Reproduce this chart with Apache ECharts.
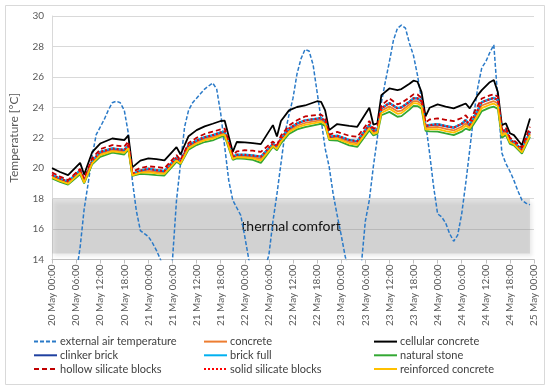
<!DOCTYPE html>
<html>
<head>
<meta charset="utf-8">
<script src="https://cdn.jsdelivr.net/npm/echarts@6/dist/echarts.min.js"></script>
<style>html,body{margin:0;padding:0;background:#fff}#c{width:550px;height:389px}</style>
</head>
<body>
<div id="c"></div>
<script>
// ---- tick labels (every 6 hours) ----
var tickLabels = ["20 May 00:00","20 May 06:00","20 May 12:00","20 May 18:00",
  "21 May 00:00","21 May 06:00","21 May 12:00","21 May 18:00",
  "22 May 00:00","22 May 06:00","22 May 12:00","22 May 18:00",
  "23 May 00:00","23 May 06:00","23 May 12:00","23 May 18:00",
  "24 May 00:00","24 May 06:00","24 May 12:00","24 May 18:00","25 May 00:00"];

// ---- external air temperature, hourly from 20 May 00:00 ----
var extTemp = [12.5,12.2,11.9,11.7,11.6,11.8,13.0,14.8,17.3,19.0,
  20.8,22.2,22.7,23.2,23.8,24.3,24.4,24.3,23.8,22.3,
  19.2,17.2,15.9,15.7,15.5,15.1,14.6,14.0,13.2,12.8,
  14.0,17.9,20.3,22.7,23.8,24.3,24.6,24.9,25.2,25.4,
  25.6,25.2,23.6,21.4,19.2,17.9,17.4,16.9,15.5,14.0,
  12.8,12.4,12.5,13.4,14.3,16.5,18.3,20.3,22.3,23.5,
  24.6,26.2,27.2,27.8,27.7,26.8,25.0,23.2,21.3,20.1,
  18.3,16.9,15.6,14.2,13.2,12.6,12.7,13.6,16.5,17.9,
  20.1,22.0,24.3,25.7,27.0,28.4,29.2,29.4,29.2,28.2,
  27.4,26.1,24.5,23.0,21.0,18.8,17.0,16.8,16.4,15.7,
  15.2,15.6,17.0,19.0,21.2,23.5,25.3,26.6,27.0,27.6,
  28.1,24.5,21.0,20.3,19.8,19.2,18.5,17.9,17.7,17.6];

// ---- indoor temperatures at read hours ----
var hours = [0,2,4,7,8,10,12,15,18,19,20,22,24,26,28,31,32,34,36,38,40,42,43,45,46,48,50,52,
  55,56,57,59,61,63,66,67,68,69,71,74,76,79,80,81,82,84,86,87,89,90,91,92,93,94,96,98,100,
  102,103,104,106,107,109,110,111,112,113,114,115,117,119];

var cellularConcrete = [20.00,19.75,19.55,20.35,19.58,21.05,21.62,21.95,21.85,22.15,20.05,20.50,20.65,20.60,20.52,21.38,20.90,22.10,22.50,22.75,22.92,23.10,23.12,21.07,21.72,21.70,21.65,21.58,
  22.83,22.08,23.10,23.80,24.02,24.12,24.40,24.36,23.80,22.50,22.90,22.78,22.72,23.97,22.87,22.94,24.80,25.24,25.13,25.20,25.55,25.75,25.68,25.00,23.40,23.97,24.19,24.05,23.93,
  24.14,24.25,23.93,24.80,25.13,25.65,25.80,25.00,22.83,22.95,22.30,22.17,21.51,23.26];

var hollowSilicate = [19.72,19.45,19.22,19.95,19.30,20.65,21.25,21.52,21.42,21.75,19.75,20.02,20.12,20.08,20.00,20.86,20.52,21.65,22.00,22.25,22.40,22.55,22.60,20.85,21.10,21.18,21.15,21.07,
  21.75,21.50,22.15,22.80,23.15,23.40,23.50,23.52,23.30,22.20,22.38,22.13,22.06,23.10,22.60,22.70,24.12,24.58,24.20,24.28,24.65,24.85,24.84,24.60,23.00,23.20,23.27,23.18,23.09,
  23.30,23.48,23.12,24.10,24.58,24.78,24.85,24.70,22.55,22.65,22.00,21.84,21.35,22.72];

var clinkerBrick = [19.55,19.30,19.10,19.85,19.15,20.45,21.05,21.28,21.18,21.50,19.60,19.82,19.95,19.85,19.80,20.68,20.42,21.50,21.80,22.02,22.15,22.33,22.38,20.72,20.87,20.86,20.82,20.74,
  21.58,21.42,21.95,22.58,22.92,23.12,23.24,23.28,23.08,22.05,22.12,21.84,21.76,22.85,22.45,22.52,23.92,24.26,23.93,23.98,24.35,24.58,24.58,24.38,22.75,22.82,22.87,22.75,22.65,
  22.90,23.15,22.83,23.80,24.32,24.52,24.60,24.45,22.40,22.50,21.85,21.69,21.20,22.39];

var brickFull = [19.59,19.34,19.14,19.89,19.19,20.49,21.09,21.32,21.22,21.54,19.64,19.86,19.99,19.89,19.84,20.72,20.46,21.54,21.84,22.06,22.19,22.37,22.42,20.76,20.91,20.90,20.86,20.78,
  21.62,21.46,21.99,22.62,22.96,23.16,23.28,23.32,23.12,22.09,22.16,21.88,21.80,22.89,22.49,22.56,23.96,24.30,23.97,24.02,24.39,24.62,24.62,24.42,22.79,22.86,22.91,22.79,22.69,
  22.94,23.19,22.87,23.84,24.36,24.56,24.64,24.49,22.44,22.54,21.89,21.73,21.24,22.43];

var solidSilicate = [19.57,19.32,19.12,19.87,19.17,20.47,21.07,21.30,21.20,21.52,19.62,19.84,19.97,19.87,19.82,20.70,20.44,21.52,21.82,22.04,22.17,22.35,22.40,20.74,20.89,20.88,20.84,20.76,
  21.60,21.44,21.97,22.60,22.94,23.14,23.26,23.30,23.10,22.07,22.14,21.86,21.78,22.87,22.47,22.54,23.94,24.28,23.95,24.00,24.37,24.60,24.60,24.40,22.77,22.84,22.89,22.77,22.67,
  22.92,23.17,22.85,23.82,24.34,24.54,24.62,24.47,22.42,22.52,21.87,21.71,21.22,22.41];

var concrete = [19.47,19.23,19.04,19.76,19.10,20.38,20.95,21.19,21.08,21.40,19.56,19.76,19.83,19.75,19.70,20.59,20.36,21.40,21.70,21.92,22.03,22.23,22.28,20.66,20.79,20.78,20.73,20.60,
  21.52,21.34,21.83,22.46,22.79,22.97,23.11,23.15,22.98,21.98,22.02,21.72,21.63,22.72,22.35,22.43,23.77,24.06,23.74,23.78,24.18,24.41,24.40,24.21,22.65,22.68,22.71,22.59,22.48,
  22.72,22.96,22.71,23.62,24.12,24.33,24.40,24.26,22.26,22.39,21.76,21.62,21.11,22.27];

var reinforcedConcrete = [19.40,19.17,18.98,19.69,19.05,20.32,20.86,21.11,21.00,21.32,19.53,19.71,19.72,19.66,19.62,20.51,20.31,21.32,21.62,21.83,21.94,22.15,22.20,20.61,20.72,20.70,20.64,20.49,
  21.46,21.26,21.74,22.37,22.68,22.85,23.00,23.05,22.88,21.92,21.93,21.62,21.53,22.61,22.26,22.34,23.63,23.90,23.57,23.62,24.03,24.27,24.25,24.07,22.56,22.56,22.56,22.44,22.34,
  22.58,22.79,22.62,23.48,23.95,24.17,24.24,24.09,22.14,22.29,21.69,21.57,21.04,22.18];

var naturalStone = [19.32,19.10,18.92,19.60,19.00,20.25,20.75,21.02,20.90,21.22,19.50,19.62,19.60,19.55,19.52,20.42,20.25,21.22,21.52,21.72,21.82,22.05,22.10,20.55,20.64,20.62,20.55,20.35,
  21.40,21.18,21.62,22.25,22.55,22.70,22.87,22.92,22.78,21.85,21.82,21.50,21.40,22.48,22.15,22.25,23.48,23.70,23.38,23.42,23.85,24.10,24.08,23.90,22.45,22.42,22.40,22.28,22.17,
  22.40,22.60,22.50,23.30,23.75,23.98,24.04,23.90,22.00,22.18,21.60,21.50,20.95,22.06];

// ---- comfort band ----
var comfortBand = [14.4, 18];
var comfortLabel = "thermal comfort";

function pairs(xs, ys){ return xs.map(function(x,i){ return [x, ys[i]]; }); }
function extPairs(){ return extTemp.map(function(v,i){ return [i, v]; }); }

var FONT = "Lato, 'Open Sans', sans-serif";
var chart = echarts.init(document.getElementById('c'), null, {renderer:'canvas'});

function lineSeries(name, data, color, type, width, z){
  return {
    name: name, type: 'line', data: data, symbol: 'none', z: z,
    lineStyle: {color: color, width: width, type: type, cap: 'butt'},
    itemStyle: {color: color},
    emphasis: {disabled: true}, animation: false, clip: true
  };
}

var series = [
  {
    name: 'band', type: 'line', data: [], z: 1, silent: true, animation: false,
    markArea: {
      silent: true,
      itemStyle: {color: 'rgba(160,160,160,0.3)', shadowColor: 'rgba(0,0,0,0.3)', shadowBlur: 4, shadowOffsetX: 2, shadowOffsetY: 3},
      label: {show: true, position: 'inside', color: '#111', fontSize: 14, fontFamily: FONT},
      data: [[{name: comfortLabel, coord: [0, comfortBand[0]]}, {coord: [119, comfortBand[1]]}]]
    }
  },
  lineSeries('external air temperature', extPairs(), '#2a7ac8', [4, 2], 1.5, 3),
  lineSeries('concrete', pairs(hours, concrete), '#ED7D31', 'solid', 1.8, 4),
  lineSeries('cellular concrete', pairs(hours, cellularConcrete), '#000000', 'solid', 1.8, 5),
  lineSeries('clinker brick', pairs(hours, clinkerBrick), '#1F40A0', 'solid', 1.8, 6),
  lineSeries('brick full', pairs(hours, brickFull), '#00B0F0', 'solid', 1.8, 7),
  lineSeries('natural stone', pairs(hours, naturalStone), '#33A833', 'solid', 1.8, 8),
  lineSeries('hollow silicate blocks', pairs(hours, hollowSilicate), '#C00000', [5, 3], 1.8, 9),
  lineSeries('solid silicate blocks', pairs(hours, solidSilicate), '#FF0000', [2, 2], 2, 10),
  lineSeries('reinforced concrete', pairs(hours, reinforcedConcrete), '#FFC000', 'solid', 1.8, 11)
];

function legendCol(names, left){
  return {
    data: names, orient: 'vertical', left: left, top: 336, itemGap: 2.5,
    itemWidth: 23, itemHeight: 14, padding: 0,
    itemStyle: {opacity: 0},
    lineStyle: {width: 2},
    textStyle: {color: '#404040', fontSize: 11, fontFamily: FONT, padding: [0,0,0,-2]},
    selectedMode: false
  };
}

chart.setOption({
  animation: false,
  backgroundColor: '#fff',
  textStyle: {fontFamily: FONT},
  graphic: [{type: 'rect', shape: {x: 5.5, y: 5.5, width: 539, height: 379}, style: {fill: 'none', stroke: '#d9d9d9', lineWidth: 1}, silent: true, z: -10}],
  grid: {left: 52, right: 16, top: 16, bottom: 129.5},
  xAxis: {
    type: 'value', min: 0, max: 120, interval: 6,
    axisLine: {show: true, lineStyle: {color: '#bfbfbf'}},
    axisTick: {show: true, length: 4, lineStyle: {color: '#bfbfbf'}},
    splitLine: {show: false},
    axisLabel: {
      rotate: 90, margin: 5, color: '#595959', fontSize: 10, fontFamily: FONT,
      formatter: function(v){ return tickLabels[Math.round(v/6)] || ''; }
    }
  },
  yAxis: {
    type: 'value', min: 14, max: 30, interval: 2,
    name: 'Temperature [°C]', nameLocation: 'middle', nameGap: 32,
    nameTextStyle: {color: '#595959', fontSize: 12, fontFamily: FONT},
    axisLine: {show: true, lineStyle: {color: '#d9d9d9'}},
    axisTick: {show: false},
    splitLine: {show: true, lineStyle: {color: '#d9d9d9', width: 1}},
    axisLabel: {color: '#595959', fontSize: 10, margin: 8, fontFamily: FONT}
  },
  legend: [
    legendCol(['external air temperature','clinker brick','hollow silicate blocks'], 33),
    legendCol(['concrete','brick full','solid silicate blocks'], 203),
    legendCol(['cellular concrete','natural stone','reinforced concrete'], 373)
  ],
  series: series
});
</script>
</body>
</html>
